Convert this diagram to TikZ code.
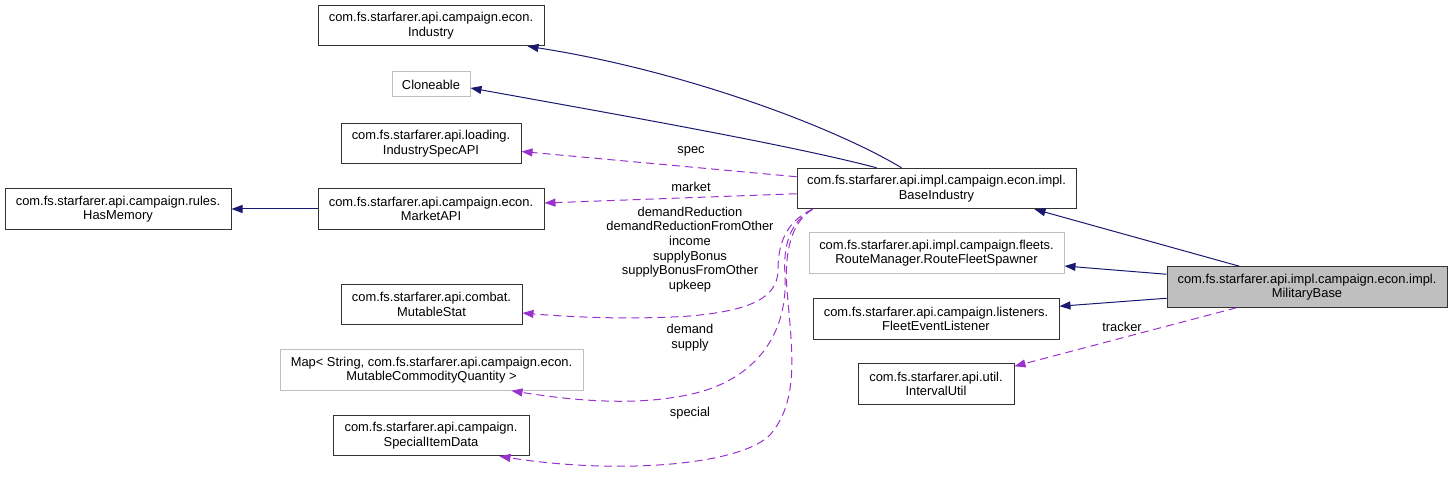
\documentclass[tikz,border=0pt]{standalone}
\usepackage{fontspec}
\setmainfont{Liberation Sans}
\usetikzlibrary{arrows.meta}
\definecolor{edgeblue}{HTML}{191970}
\definecolor{edgepurple}{HTML}{9A32CD}
\definecolor{boxgray}{HTML}{BFBFBF}
\begin{document}
\begin{tikzpicture}[x=1pt,y=-1pt,
  every node/.style={font=\fontsize{12.9}{14.6}\selectfont},
  cls/.style={draw=black!80, line width=1pt, inner sep=0pt, align=center, fill=white, minimum height=40.5pt},
  extcls/.style={cls, draw=boxgray},
  curcls/.style={cls, fill=boxgray},
  lbl/.style={align=center, inner sep=0pt},
  inh/.style={draw=edgeblue, line width=1pt, -{Triangle[length=11pt,width=8pt]}},
  usage/.style={draw=edgepurple, line width=1pt, dash pattern=on 8pt off 5pt, -{Triangle[length=11pt,width=8pt]}}
]
\useasboundingbox (0,0) rectangle (1452,478);
% nodes
\node[cls, minimum width=226pt] (industry) at (431,25.5) {com.fs.starfarer.api.campaign.econ.\\Industry};
\node[extcls, minimum width=78pt, minimum height=25pt] (cloneable) at (431,84.5) {Cloneable};
\node[cls, minimum width=180pt] (specapi) at (431,143.5) {com.fs.starfarer.api.loading.\\IndustrySpecAPI};
\node[cls, minimum width=226pt] (hasmem) at (118,209) {com.fs.starfarer.api.campaign.rules.\\HasMemory};
\node[cls, minimum width=226pt] (market) at (431,209) {com.fs.starfarer.api.campaign.econ.\\MarketAPI};
\node[cls, minimum width=181pt] (mutstat) at (431.5,304.5) {com.fs.starfarer.api.combat.\\MutableStat};
\node[extcls, minimum width=303pt] (map) at (431.5,370) {Map< String, com.fs.starfarer.api.campaign.econ.\\MutableCommodityQuantity >};
\node[cls, minimum width=196pt] (special) at (431,435.5) {com.fs.starfarer.api.campaign.\\SpecialItemData};
\node[cls, minimum width=279pt] (baseind) at (936.5,188.5) {com.fs.starfarer.api.impl.campaign.econ.impl.\\BaseIndustry};
\node[extcls, minimum width=255pt] (route) at (936.5,253) {com.fs.starfarer.api.impl.campaign.fleets.\\RouteManager.RouteFleetSpawner};
\node[cls, minimum width=246pt] (fleet) at (936,319) {com.fs.starfarer.api.campaign.listeners.\\FleetEventListener};
\node[cls, minimum width=156pt] (interval) at (936,384) {com.fs.starfarer.api.util.\\IntervalUtil};
\node[curcls, minimum width=280pt] (milbase) at (1307,287) {com.fs.starfarer.api.impl.campaign.econ.impl.\\MilitaryBase};
% inheritance edges
\draw[inh] ([xshift=73pt]milbase.north west) -- ([xshift=238pt]baseind.south west);
\draw[inh] ([yshift=-8pt]milbase.north west) -- ([yshift=-13pt]route.east);
\draw[inh] ([yshift=-32pt]milbase.north west) -- ([yshift=-8pt]fleet.north east);
\draw[inh] (market.west) -- (hasmem.east);
\draw[inh] ([xshift=105pt]baseind.north west) .. controls (830,125) and (680,70) .. ([xshift=-17pt]industry.south east);
\draw[inh] ([xshift=80pt]baseind.north west) .. controls (790,145) and (620,115) .. ([yshift=-3.5pt]cloneable.east);
% usage edges
\draw[usage] ([xshift=70pt]milbase.south west) -- ([yshift=-3pt]interval.north east);
\draw[usage] ([yshift=-9pt]baseind.north west) -- ([yshift=-8pt]specapi.east);
\draw[usage] ([yshift=-26pt]baseind.north west) -- ([yshift=6pt]market.east);
\draw[usage] ([xshift=16pt]baseind.south west) .. controls (785,222) and (778,245) .. (778,270)
   .. controls (778,300) and (745,311) .. (690,316) .. controls (630,320) and (570,317) .. ([yshift=-8.5pt]mutstat.east);
\draw[usage] ([xshift=16pt]baseind.south west) .. controls (790,222) and (783,245) .. (785,275)
   .. controls (788,330) and (760,375) .. (700,392) .. controls (640,408) and (570,400) .. ([xshift=232pt]map.south west);
\draw[usage] ([xshift=16pt]baseind.south west) .. controls (792,222) and (784,250) .. (787,290)
   .. controls (792,350) and (800,400) .. (770,435) .. controls (740,465) and (620,475) .. ([xshift=167pt]special.south west);
% labels
\node[lbl] (lspec) at (691,151) {spec};
\node[lbl] (lmarket) at (691,187) {market};
\node[lbl] (lstat) at (690,249.5) {demandReduction\\demandReductionFromOther\\income\\supplyBonus\\supplyBonusFromOther\\upkeep};
\node[lbl] (lqty) at (690,337.5) {demand\\supply};
\node[lbl] (lspecial) at (690,413) {special};
\node[lbl] (ltracker) at (1122,327) {tracker};
\end{tikzpicture}
\end{document}
